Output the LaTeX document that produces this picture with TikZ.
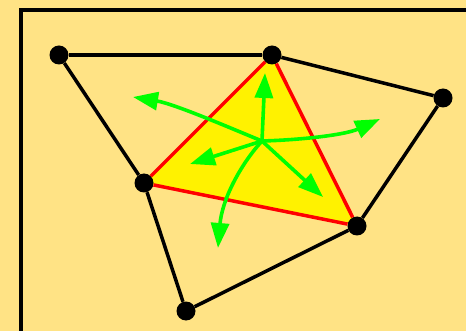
\documentclass[tikz,border=0pt]{standalone}
\usepackage{xcolor}
\usepackage{tikz}
\usetikzlibrary{arrows.meta,backgrounds}
\definecolor{paper}{HTML}{FFE385}

\begin{document}
\begin{tikzpicture}[
    x=1pt, y=-1pt,
    vert/.style={circle, fill=black, minimum size=19pt, inner sep=0pt},
    edge/.style={line width=3.5pt, black},
    redge/.style={line width=3.5pt, red, line join=round},
    flow/.style={-{Triangle[length=25pt,width=18pt]}, line width=3.6pt, green}
  ]
  \useasboundingbox (0,0) rectangle (466,331);
  \node[vert] (a) at (59,55) {};
  \node[vert] (b) at (272,55) {};
  \node[vert] (c) at (443,98) {};
  \node[vert] (d) at (144,183) {};
  \node[vert] (e) at (357,226) {};
  \node[vert] (f) at (186,311) {};

  \begin{scope}[on background layer]
    \fill[paper] (0,0) rectangle (466,331);
    \draw[line width=3.5pt] (466,10) -- (21,10) -- (21,331);
    \fill[yellow] (b.center) -- (d.center) -- (e.center) -- cycle;
  \end{scope}

  \draw[edge] (a) -- (b);
  \draw[edge] (b) -- (c);
  \draw[edge] (c) -- (e);
  \draw[edge] (a) -- (d);
  \draw[edge] (d) -- (f);
  \draw[edge] (f) -- (e);
  \draw[redge] (b) -- (d);
  \draw[redge] (d) -- (e);
  \draw[redge] (e) -- (b);

  % normals out of the face
  \coordinate (hub) at (262,141);
  \coordinate (up) at (265,73);
  \coordinate (lu) at (133,97);
  \coordinate (ru) at (380,119);
  \coordinate (ld) at (190,164);
  \coordinate (rd) at (323,197);
  \coordinate (dn) at (218,248);
  \draw[flow] (hub) -- (up);
  \draw[flow] (hub) .. controls (235,130) and (175,104) .. (lu);
  \draw[flow] (hub) .. controls (300,140) and (345,135) .. (ru);
  \draw[flow] (hub) -- (ld);
  \draw[flow] (hub) -- (rd);
  \draw[flow] (hub) .. controls (240,165) and (222,200) .. (dn);
\end{tikzpicture}
\end{document}
